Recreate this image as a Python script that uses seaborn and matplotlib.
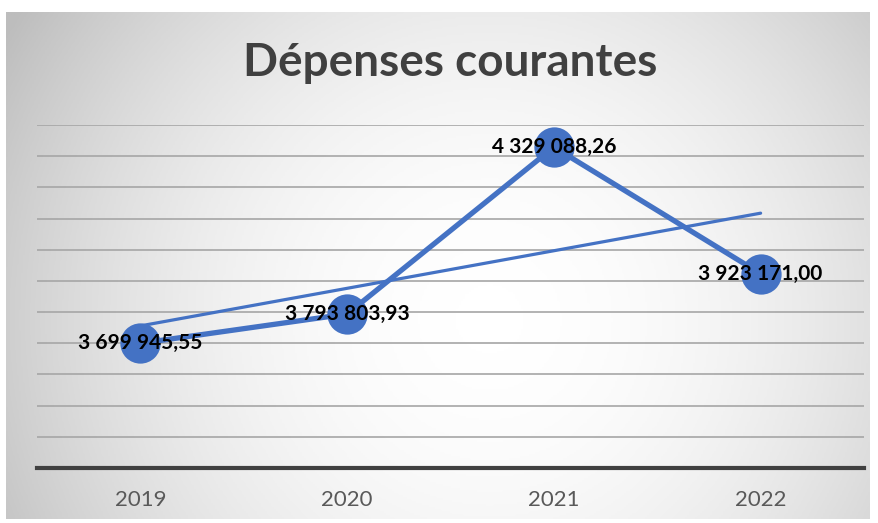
import matplotlib
matplotlib.use("Agg")
import matplotlib.pyplot as plt
import numpy as np
import pandas as pd
import seaborn as sns
from matplotlib.colors import LinearSegmentedColormap

# Dépenses courantes par année
annees = ["2019", "2020", "2021", "2022"]
depenses = [3699945.55, 3793803.93, 4329088.26, 3923171.00]

titre = "Dépenses courantes"
y_min, y_max, y_pas = 3300000, 4400000, 100000

BLEU = "#4472C4"
FONT = "Lato"


def fmt_fr(v):
    return f"{v:,.2f}".replace(",", " ").replace(".", ",")


sns.set_theme(style="white")
plt.rcParams["font.family"] = [FONT, "DejaVu Sans"]

df = pd.DataFrame({"annee": annees, "valeur": depenses})
df["idx"] = np.arange(len(df))

W, H = 879, 523
fig = plt.figure(figsize=(W / 100, H / 100), dpi=100)
fig.patch.set_facecolor("white")

# fond du graphique : dégradé radial blanc au centre, gris sur les bords
bg = fig.add_axes([6 / W, 1 - 519 / H, (870 - 6) / W, (519 - 12) / H])
gx, gy = np.meshgrid(np.linspace(6, 870, 400), np.linspace(12, 519, 250))
r = np.hypot(gx - 490, gy - 320) / 565
cmap = LinearSegmentedColormap.from_list("fond", ["#ffffff", "#bdbdbd"])
bg.imshow(np.clip(r, 0, 1) ** 2, cmap=cmap, vmin=0, vmax=1,
          aspect="auto", extent=[0, 1, 0, 1], origin="upper")
bg.set_axis_off()

ax = fig.add_axes([37 / W, 1 - 468 / H, 827 / W, 343 / H])
ax.set_facecolor("none")

sns.lineplot(data=df, x="idx", y="valeur", ax=ax, color=BLEU, linewidth=3.8,
             marker="o", markersize=29, markeredgewidth=0, zorder=3)
sns.regplot(data=df, x="idx", y="valeur", ax=ax, scatter=False, ci=None,
            truncate=True, color=BLEU, line_kws={"linewidth": 2.3, "zorder": 4})

for i, v in zip(df["idx"], df["valeur"]):
    ax.text(i, v, fmt_fr(v), ha="center", va="center", fontsize=15,
            fontweight="bold", color="black", zorder=5)

ax.set_xlim(-0.5, len(annees) - 0.5)
ax.set_ylim(y_min, y_max)
ax.set_yticks(np.arange(y_min, y_max + 1, y_pas))
ax.set_xticks(df["idx"])
ax.set_xticklabels(annees, fontsize=16, color="#595959")
ax.tick_params(axis="x", length=0, pad=16)
ax.tick_params(axis="y", length=0, labelleft=False)
ax.grid(axis="y", color="#a6a6a6", linewidth=1.2)
ax.grid(axis="x", visible=False)
for s in ["top", "left", "right"]:
    ax.spines[s].set_visible(False)
ax.spines["bottom"].set_color("#404040")
ax.spines["bottom"].set_linewidth(3)
ax.spines["bottom"].set_zorder(2)
ax.set_xlabel("")
ax.set_ylabel("")

fig.text(450 / W, 1 - 63 / H, titre, ha="center", va="center", fontsize=33,
         fontweight="bold", color="#404040")

fig.savefig("out.png", dpi=100)
